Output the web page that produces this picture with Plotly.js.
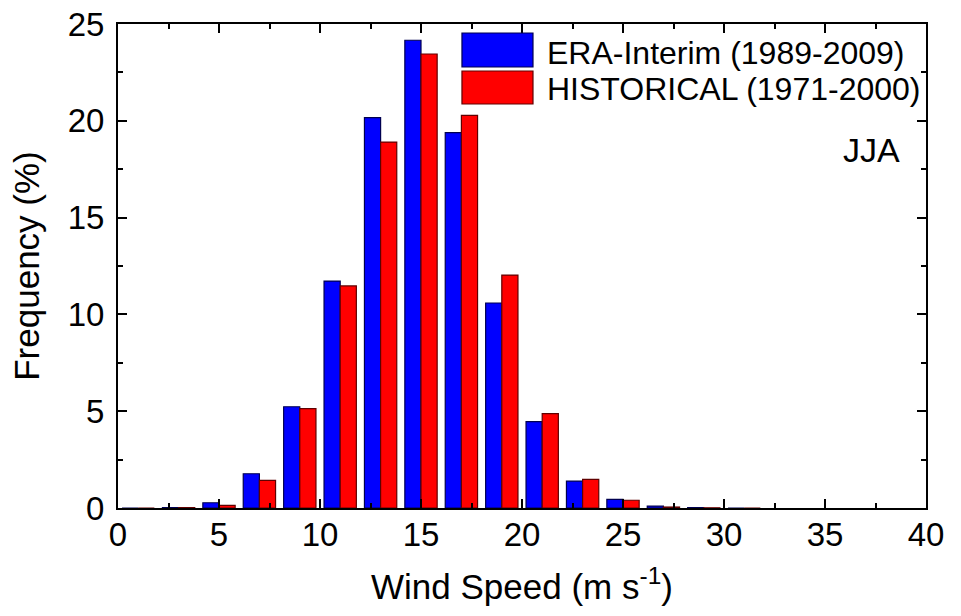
<!DOCTYPE html>
<html>
<head>
<meta charset="utf-8">
<script src="https://cdn.plot.ly/plotly-3.0.1.min.js"></script>
<style>html,body{margin:0;padding:0;background:#fff;}#chart{width:961px;height:616px;}</style>
</head>
<body>
<div id="chart"></div>
<script>
// Bin centres (wind speed, m s-1)
const windBins = [1, 3, 5, 7, 9, 11, 13, 15, 17, 19, 21, 23, 25, 27, 29, 31];
// Frequencies (%)
const eraInterim = [0.0, 0.02, 0.27, 1.77, 5.23, 11.72, 20.16, 24.16, 19.39, 10.59, 4.46, 1.39, 0.45, 0.10, 0.02, 0.0];
const historical = [0.0, 0.02, 0.14, 1.43, 5.13, 11.47, 18.90, 23.45, 20.28, 12.03, 4.87, 1.48, 0.40, 0.05, 0.01, 0.0];
const seriesNames = ["ERA-Interim (1989-2009)", "HISTORICAL (1971-2000)"];
const xTicks = [0, 5, 10, 15, 20, 25, 30, 35, 40];
const yTicks = [0, 5, 10, 15, 20, 25];
const seasonLabel = "JJA";

const FONT = "Liberation Sans, Arial, sans-serif";

const traces = [
  {type: "bar", x: windBins, y: eraInterim, name: seriesNames[0],
   marker: {color: "#0000FF", line: {color: "#000050", width: 1.2}}},
  {type: "bar", x: windBins, y: historical, name: seriesNames[1],
   marker: {color: "#FF0000", line: {color: "#600000", width: 1.2}}}
];

const axisCommon = {
  showline: true, linecolor: "#000", linewidth: 2, mirror: "ticks",
  ticks: "inside", ticklen: 9, tickwidth: 2, tickcolor: "#000",
  showgrid: false, zeroline: false,
  tickfont: {family: FONT, size: 33, color: "#000"},
  minor: {ticks: "inside", ticklen: 5, tickwidth: 2, tickcolor: "#000", showgrid: false}
};

const layout = {
  width: 961, height: 616,
  margin: {l: 118, r: 35, t: 24, b: 108},
  paper_bgcolor: "#fff", plot_bgcolor: "#fff",
  barmode: "group", bargap: 0.2, bargroupgap: 0,
  showlegend: false,
  xaxis: Object.assign({}, axisCommon, {
    range: [0, 40], tickvals: xTicks, ticktext: xTicks.map(String),
    ticklabelstandoff: -4,
    minor: Object.assign({}, axisCommon.minor, {dtick: 2.5, tick0: 0}),
    title: {text: "Wind Speed (m s<sup>-1</sup>)", font: {family: FONT, size: 35, color: "#000"}, standoff: 23}
  }),
  yaxis: Object.assign({}, axisCommon, {
    range: [0, 25], tickvals: yTicks, ticktext: yTicks.map(String),
    ticklabelstandoff: 5,
    minor: Object.assign({}, axisCommon.minor, {dtick: 2.5, tick0: 0}),
    title: {text: "Frequency (%)", font: {family: FONT, size: 35, color: "#000"}, standoff: 17}
  }),
  shapes: [
    {type: "rect", xref: "paper", yref: "paper", x0: 0.4257, x1: 0.5136, y0: 0.9112, y1: 0.9814,
     fillcolor: "#0000FF", line: {color: "#000050", width: 1.2}},
    {type: "rect", xref: "paper", yref: "paper", x0: 0.4257, x1: 0.5136, y0: 0.8347, y1: 0.9029,
     fillcolor: "#FF0000", line: {color: "#600000", width: 1.2}}
  ],
  annotations: [
    {xref: "paper", yref: "paper", x: 0.5285, y: 0.940, xanchor: "left", yanchor: "middle",
     text: seriesNames[0], showarrow: false, font: {family: FONT, size: 32, color: "#000"}},
    {xref: "paper", yref: "paper", x: 0.5285, y: 0.866, xanchor: "left", yanchor: "middle",
     text: seriesNames[1], showarrow: false, font: {family: FONT, size: 32, color: "#000"}},
    {xref: "paper", yref: "paper", x: 0.970, y: 0.740, xanchor: "right", yanchor: "middle",
     text: seasonLabel, showarrow: false, font: {family: FONT, size: 34, color: "#000"}}
  ]
};

Plotly.newPlot("chart", traces, layout, {staticPlot: true, displayModeBar: false});
</script>
</body>
</html>
